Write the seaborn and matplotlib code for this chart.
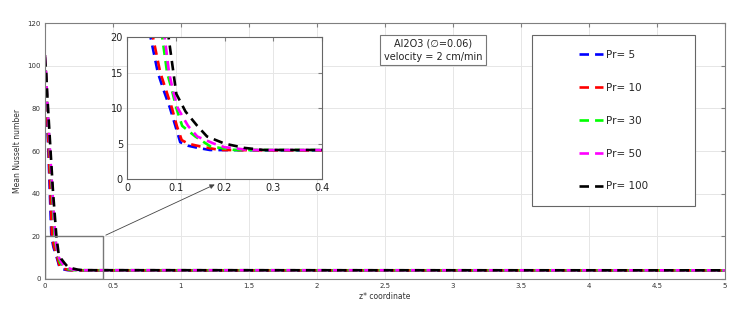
import numpy as np
import pandas as pd
import matplotlib
matplotlib.use("Agg")
import matplotlib.pyplot as plt
from matplotlib.patches import Rectangle
import seaborn as sns

# values (z* coordinate, mean Nusselt number)
z_pr5 = [0.000, 0.004, 0.010, 0.018, 0.027, 0.036, 0.048, 0.063, 0.075, 0.088, 0.099, 0.109, 0.125, 0.145, 0.170, 0.300, 5.0]
nu_pr5 = [105, 98, 85, 72, 58, 42, 20, 15, 12.5, 10, 7.5, 5.2, 4.7, 4.4, 4.1, 4.05, 4.05]
z_pr10 = [0.000, 0.005, 0.012, 0.021, 0.030, 0.040, 0.053, 0.068, 0.080, 0.092, 0.102, 0.112, 0.125, 0.150, 0.190, 0.300, 5.0]
nu_pr10 = [105, 98, 85, 72, 58, 42, 20, 15, 12.5, 10, 7.5, 5.5, 5.0, 4.6, 4.1, 4.05, 4.05]
z_pr30 = [0.000, 0.007, 0.016, 0.027, 0.038, 0.052, 0.072, 0.082, 0.092, 0.101, 0.113, 0.140, 0.171, 0.220, 5.0]
nu_pr30 = [105, 98, 85, 72, 58, 42, 20, 15, 12.5, 10, 7.5, 6.0, 4.6, 4.1, 4.05]
z_pr50 = [0.000, 0.008, 0.017, 0.028, 0.040, 0.055, 0.077, 0.086, 0.094, 0.104, 0.125, 0.144, 0.178, 0.200, 0.250, 5.0]
nu_pr50 = [105, 98, 85, 72, 58, 42, 20, 15, 12.5, 10, 7.5, 6.0, 5.0, 4.5, 4.1, 4.05]
z_pr100 = [0.000, 0.010, 0.020, 0.032, 0.045, 0.060, 0.085, 0.091, 0.096, 0.101, 0.120, 0.144, 0.164, 0.200, 0.240, 0.280, 5.0]
nu_pr100 = [104, 97, 84, 71, 57, 41, 20, 17, 14.5, 12, 9.5, 7.5, 6.0, 5.0, 4.4, 4.1, 4.05]

labels = ['Pr= 5', 'Pr= 10', 'Pr= 30', 'Pr= 50', 'Pr= 100']
colors = ['#0000ff', '#ff0000', '#00ff00', '#ff00ff', '#000000']
series = [(z_pr5, nu_pr5), (z_pr10, nu_pr10), (z_pr30, nu_pr30), (z_pr50, nu_pr50), (z_pr100, nu_pr100)]

sns.set_style("white")
plt.rcParams['font.family'] = ['DejaVu Sans']

fig = plt.figure(figsize=(7.35, 3.17), dpi=100)
ax = fig.add_axes([0.061, 0.120, 0.925, 0.807])
axin = fig.add_axes([0.173, 0.435, 0.265, 0.448])

ls = (0, (3.6, 2.3))
for (z, nu), lab, c in zip(series, labels, colors):
    df = pd.DataFrame({'z': z, 'Nu': nu})
    sns.lineplot(data=df, x='z', y='Nu', ax=ax, color=c, lw=1.9, linestyle=ls,
                 estimator=None, sort=False, label=lab)
    sns.lineplot(data=df, x='z', y='Nu', ax=axin, color=c, lw=1.9, linestyle=ls,
                 estimator=None, sort=False, legend=False)

spine_col = '#7f7f7f'
ax.set_xlim(0, 5)
ax.set_ylim(0, 120)
ax.set_xticks(np.arange(0, 5.01, 0.5))
ax.set_xticklabels(['0', '0.5', '1', '1.5', '2', '2.5', '3', '3.5', '4', '4.5', '5'])
ax.set_yticks(np.arange(0, 121, 20))
ax.tick_params(direction='in', labelsize=5, length=3, color=spine_col, labelcolor='#333333',
               top=True, right=True, pad=3)
ax.grid(True, color='#e6e6e6', lw=0.7)
ax.set_xlabel('z* coordinate', fontsize=5.5, color='#333333', labelpad=2)
ax.set_ylabel('Mean Nusselt number', fontsize=5.5, color='#333333', labelpad=4)
for s in ax.spines.values():
    s.set_color(spine_col)
    s.set_linewidth(0.8)

axin.set_xlim(0, 0.4)
axin.set_ylim(0, 20)
axin.set_xticks([0, 0.1, 0.2, 0.3, 0.4])
axin.set_xticklabels(['0', '0.1', '0.2', '0.3', '0.4'])
axin.set_yticks([0, 5, 10, 15, 20])
axin.tick_params(direction='in', labelsize=7, length=3, color=spine_col, labelcolor='#222222',
                 top=True, right=True, pad=3)
axin.grid(True, color='#e6e6e6', lw=0.7)
axin.set_xlabel('')
axin.set_ylabel('')
axin.set_facecolor('white')
for s in axin.spines.values():
    s.set_color('#666666')
    s.set_linewidth(0.8)

# zoom box and arrow
ax.add_patch(Rectangle((0, 0), 0.43, 20, fill=False, ec='#777777', lw=1.0, zorder=5))
ax.annotate('', xy=(0.185, -0.6), xycoords=axin.transData, xytext=(0.43, 20), textcoords=ax.transData,
            arrowprops=dict(arrowstyle='-|>', color='#444444', lw=0.6, mutation_scale=7))

ax.text(0.571, 0.895, 'Al2O3 (\u2205=0.06)\nvelocity = 2 cm/min', transform=ax.transAxes,
        ha='center', va='center', fontsize=7, color='#222222', linespacing=1.4,
        bbox=dict(boxstyle='square,pad=0.35', fc='white', ec='#777777', lw=0.8))

# legend
handles, labs = ax.get_legend_handles_labels()
ax.add_patch(Rectangle((0.716, 0.285), 0.241, 0.668, transform=ax.transAxes, fill=True,
                       fc='white', ec='#666666', lw=0.8, zorder=6))
leg = ax.legend(handles, labs, loc='center', bbox_to_anchor=(0.716, 0.285, 0.241, 0.668),
                frameon=False, fontsize=7.5, labelspacing=2.2, handlelength=2.3, handletextpad=0.3)
leg.set_zorder(7)

fig.savefig('out.png', dpi=100, facecolor='white')
